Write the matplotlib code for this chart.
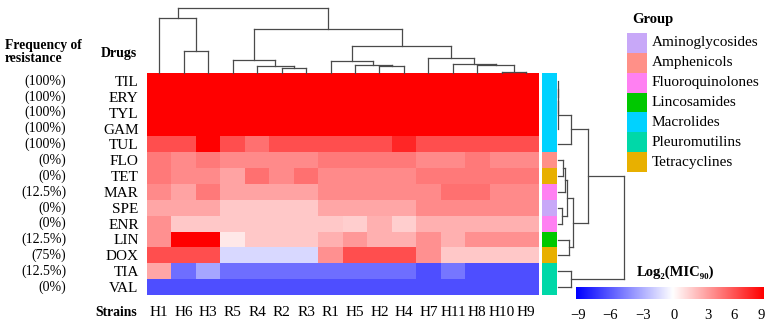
import numpy as np
import matplotlib
matplotlib.use("Agg")
import matplotlib.pyplot as plt
from matplotlib.colors import LinearSegmentedColormap, ListedColormap
from matplotlib.patches import Rectangle
import matplotlib.transforms as mtransforms

plt.rcParams['font.family'] = ['Liberation Serif', 'DejaVu Serif']

# data
strains = ["H1", "H6", "H3", "R5", "R4", "R2", "R3", "R1",
           "H5", "H2", "H4", "H7", "H11", "H8", "H10", "H9"]
drugs = ["TIL", "ERY", "TYL", "GAM", "TUL", "FLO", "TET",
         "MAR", "SPE", "ENR", "LIN", "DOX", "TIA", "VAL"]
resistance = ["100%", "100%", "100%", "100%", "100%", "0%", "0%",
              "12.5%", "0%", "0%", "12.5%", "75%", "12.5%", "0%"]
drug_group = ["Macrolides"] * 5 + ["Amphenicols", "Tetracyclines", "Fluoroquinolones",
              "Aminoglycosides", "Fluoroquinolones", "Lincosamides", "Tetracyclines",
              "Pleuromutilins", "Pleuromutilins"]
groups = ["Aminoglycosides", "Amphenicols", "Fluoroquinolones", "Lincosamides",
          "Macrolides", "Pleuromutilins", "Tetracyclines"]
group_colors = ["#C8A8F8", "#FF9088", "#FF80F2", "#00C800",
                "#00D2FF", "#00D8A8", "#E8B000"]

# log2(MIC90)
log_mic = [
    [9] * 16,
    [9] * 16,
    [9] * 16,
    [9] * 16,
    [6.2, 6.2, 9, 6.2, 5.0, 6.2, 6.2, 6.2, 6.2, 6.2, 7.6, 6.2, 6.2, 6.2, 6.2, 6.2],
    [4.7, 4.1, 4.7, 4.1, 4.1, 4.1, 4.1, 4.7, 4.7, 4.7, 4.7, 4.1, 4.1, 4.7, 4.1, 4.1],
    [4.7, 4.1, 4.1, 3.2, 5.0, 4.1, 5.0, 4.1, 4.1, 4.1, 4.1, 4.7, 4.7, 4.7, 4.7, 4.7],
    [4.1, 3.2, 4.7, 3.2, 3.2, 3.2, 3.2, 4.1, 4.1, 4.1, 4.1, 4.1, 5.0, 5.0, 4.1, 4.1],
    [3.1, 3.1, 3.1, 1.9, 1.9, 1.9, 1.9, 3.1, 3.1, 3.1, 3.1, 4.1, 4.1, 4.1, 4.1, 4.1],
    [3.9, 1.9, 1.9, 1.9, 1.9, 1.9, 1.9, 1.9, 1.7, 2.8, 1.7, 2.8, 2.8, 2.8, 2.8, 2.8],
    [3.9, 9, 9, 0.8, 1.9, 1.9, 1.9, 2.8, 3.6, 2.8, 2.8, 3.9, 2.8, 3.9, 3.9, 3.9],
    [6.2, 6.2, 6.2, -1.4, -1.4, -1.4, -1.4, 3.9, 6.2, 6.2, 6.2, 3.9, 1.9, 1.9, 1.9, 1.9],
    [3.1, -5.1, -3.1, -5.1, -5.1, -5.1, -5.1, -5.1, -5.1, -5.1, -5.1, -6.2, -4.8, -6.2, -6.2, -6.2],
    [-6.2] * 16,
]

# cluster merges: (child a, child b, height); ids >= n are earlier merges
col_links = [(1, 2, 21.7), (0, 16, 55), (5, 6, 5), (4, 18, 7.3), (3, 19, 13.3),
             (9, 10, 7), (8, 21, 7.7), (7, 22, 12.3), (14, 15, 0.7), (13, 24, 7.7),
             (12, 25, 9.3), (11, 26, 14.7), (23, 27, 26.7), (20, 28, 44.3), (17, 29, 65.3)]
row_links = [(0, 1, 0), (14, 2, 0), (15, 3, 0), (16, 4, 13.7), (5, 6, 5), (18, 7, 7),
             (8, 9, 4.7), (19, 20, 9.5), (10, 11, 11.3), (21, 22, 15.7), (17, 23, 30.3),
             (12, 13, 13), (24, 25, 67)]

cbar_ticks = ["\u22129", "\u22126", "\u22123", "0", "3", "6", "9"]

W, H = 773, 328
fig = plt.figure(figsize=(W / 100, H / 100), dpi=100)


def box(x0, y0, x1, y1):
    return [x0 / W, 1 - y1 / H, (x1 - x0) / W, (y1 - y0) / H]


def draw_tree(ax, links, n, horizontal):
    pos = {i: i + 0.5 for i in range(n)}
    hgt = {i: 0.0 for i in range(n)}
    style = dict(color="#4a4a4a", lw=0.9, clip_on=False)
    for k, (a, b, h) in enumerate(links):
        for c in (a, b):
            if horizontal:
                ax.plot([pos[c], pos[c]], [hgt[c], h], **style)
            else:
                ax.plot([hgt[c], h], [pos[c], pos[c]], **style)
        if horizontal:
            ax.plot([pos[a], pos[b]], [h, h], **style)
        else:
            ax.plot([h, h], [pos[a], pos[b]], **style)
        pos[n + k] = (pos[a] + pos[b]) / 2
        hgt[n + k] = h


# heatmap
cmap = LinearSegmentedColormap.from_list("bwr_", ["#0000FF", "#FFFFFF", "#FF0000"])
ax = fig.add_axes(box(147, 73, 538.5, 295))
ax.imshow(np.array(log_mic), cmap=cmap, vmin=-9, vmax=9, aspect="auto",
          interpolation="nearest")
ax.set_yticks(range(len(drugs)))
ax.set_yticklabels(drugs, fontsize=11)
ax.set_xticks(range(len(strains)))
ax.set_xticklabels(strains, fontsize=11)
ax.tick_params(length=0, pad=6)
ax.tick_params(axis="x", pad=8)
for s in ax.spines.values():
    s.set_visible(False)
trans = mtransforms.blended_transform_factory(fig.transFigure, ax.transData)
for i, r in enumerate(resistance):
    ax.text(66 / W, i, f"({r})", transform=trans, ha="right", va="center", fontsize=10)

fig.text(5 / W, 1 - 46 / H, "Frequency of", fontsize=9.8, weight="bold", va="center")
fig.text(5 / W, 1 - 59 / H, "resistance", fontsize=9.8, weight="bold", va="center")
fig.text(137 / W, 1 - 53 / H, "Drugs", fontsize=10, weight="bold", va="center", ha="right")
fig.text(137 / W, 1 - 312 / H, "Strains", fontsize=9.8, weight="bold", va="center", ha="right")

# column dendrogram
axt = fig.add_axes(box(147, 7, 538.5, 73))
draw_tree(axt, col_links, len(strains), True)
axt.set_xlim(0, len(strains))
axt.set_ylim(0, 66)
axt.axis("off")

# group annotation
axa = fig.add_axes(box(542, 73, 557, 295))
gidx = [groups.index(g) for g in drug_group]
axa.imshow(np.array(gidx)[:, None], cmap=ListedColormap(group_colors), vmin=-0.5,
           vmax=len(groups) - 0.5, aspect="auto", interpolation="nearest")
axa.axis("off")

# row dendrogram
axr = fig.add_axes(box(557.5, 73, 626, 295))
draw_tree(axr, row_links, len(drugs), False)
axr.set_ylim(len(drugs), 0)
axr.set_xlim(0, 68.5)
axr.axis("off")

# group legend
axl = fig.add_axes(box(627, 33, 647, 172))
for i, (g, c) in enumerate(zip(groups, group_colors)):
    axl.add_patch(Rectangle((0, i), 1, 1, color=c, lw=0))
    axl.text(1.25, i + 0.5, g, va="center", ha="left", fontsize=11)
axl.set_xlim(0, 1)
axl.set_ylim(len(groups), 0)
axl.axis("off")
fig.text(632 / W, 1 - 20 / H, "Group", fontsize=10.5, weight="bold", va="center")

# colour key
axc = fig.add_axes(box(576, 287, 764, 299))
key_cmap = LinearSegmentedColormap.from_list(
    "key", [(0, "#0000FF"), (0.516, "#FFFFFF"), (1, "#FF0000")])
axc.imshow(np.linspace(0, 1, 256)[None, :], cmap=key_cmap, aspect="auto",
           extent=(0, 1, 0, 1))
axc.set_xticks([0.011, 0.181, 0.356, 0.521, 0.702, 0.840, 0.984])
axc.set_xticklabels(cbar_ticks, fontsize=10.5)
axc.set_yticks([])
axc.tick_params(length=0, pad=7)
for s in axc.spines.values():
    s.set_visible(False)
fig.text(637 / W, 1 - 272 / H, "Log\u2082(MIC\u2089\u2080)", fontsize=10.5,
         weight="bold", va="center")

fig.savefig("out.png", dpi=100)
